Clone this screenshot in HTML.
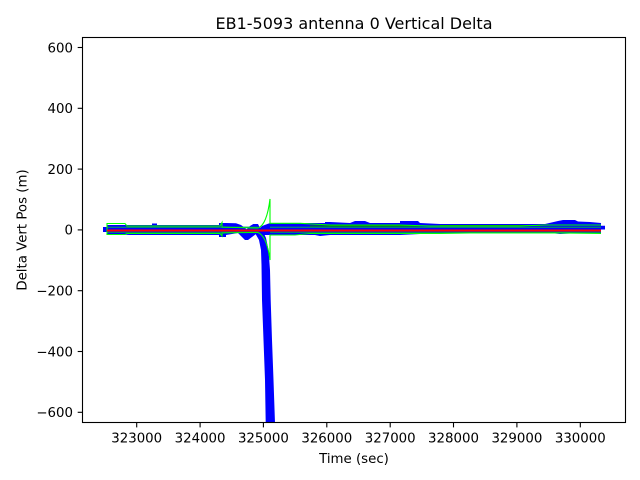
<!DOCTYPE html>
<html>
<head>
<meta charset="utf-8">
<style>
html,body{margin:0;padding:0;background:#fff;}
svg{display:block;}
text{font-family:"DejaVu Sans","Liberation Sans",sans-serif;fill:#000;}
</style>
</head>
<body>
<svg width="640" height="480" viewBox="0 0 640 480" xmlns="http://www.w3.org/2000/svg">
<rect x="0" y="0" width="640" height="480" fill="#fff"/>
<defs>
<clipPath id="ax"><rect x="82.5" y="37.5" width="543" height="385"/></clipPath>
</defs>
<g clip-path="url(#ax)">
<!-- blue band -->
<polygon fill="#0000ff" points="103,227 107,227 107,225 152,225 152,223.5 157,223.5 157,225 219,225 219,223 226,223 236,223.3 241,225 246.7,229.3 250,226 253.3,224 258,224 260,228 262,226 270,223 325,223 325,222 330,222 350,223 355,221 365,221 370,223 400,223 400,221 418,221 420,223 440,224 545,224 558,221 563,220 575,220 578,221.5 590,222 601,223 601,225.7 605,225.7 605,229.5 601,229.5 601,233 570,233.5 560,234 555,233.5 540,233 440,233 420,234 400,235 330,235 320,236 315,235 270,235 262,235 256,234 248,240 245,240 238,233 226,235 226,237 219,237 219,235 130,235 107,234 107,232 103,232"/>
<!-- blue descent -->
<polygon fill="#0000ff" points="255,233 259,240 261,250 261.5,265 262,300 263.5,340 265,380 265.7,423 275,423 273.5,380 272,340 270.7,300 270,270 268.5,250 266,238 262,229"/>
<!-- teal lines -->
<path d="M107,227.3 H258 M270,227.3 H601" stroke="#00807a" stroke-width="1.3" fill="none"/>
<path d="M107,232.4 H258 M270,232.4 H601" stroke="#00807a" stroke-width="1.3" fill="none"/>
<path d="M310,226 H420 M440,225.5 H540" stroke="#008000" stroke-width="1" fill="none"/>
<!-- light green outlines -->
<path d="M107,235 V223.5 H125 L127,226 H220 L222,222.5 V227 C235,227.5 250,228 258,228 C264,226 268,215 270,199 V223.3 H300 L330,225 H400 L430,226 H520 L545,225 H601" stroke="#00ff00" stroke-width="1.1" fill="none"/>
<path d="M107,234.5 H125 L127,233.5 H220 L222,236 V233 C235,232.5 250,232.5 258,232.5 C264,235 268,245 270,260 V235 H295 L310,233.5 H440 L470,233 H560 L601,233.5" stroke="#00ff00" stroke-width="1.1" fill="none"/>
<!-- red -->
<path d="M107,230.5 H601" stroke="#ff0000" stroke-width="2" fill="none"/>
</g>
<!-- axes frame -->
<rect x="82.5" y="37.5" width="543" height="385" fill="none" stroke="#000" stroke-width="1.1"/>
<!-- y ticks -->
<g stroke="#000" stroke-width="1.1">
<line x1="77.7" y1="47.5" x2="82.5" y2="47.5"/>
<line x1="77.7" y1="108.3" x2="82.5" y2="108.3"/>
<line x1="77.7" y1="169.1" x2="82.5" y2="169.1"/>
<line x1="77.7" y1="229.9" x2="82.5" y2="229.9"/>
<line x1="77.7" y1="290.7" x2="82.5" y2="290.7"/>
<line x1="77.7" y1="351.5" x2="82.5" y2="351.5"/>
<line x1="77.7" y1="412.3" x2="82.5" y2="412.3"/>
</g>
<g font-size="13.33" text-anchor="end">
<text x="73" y="52.3">600</text>
<text x="73" y="113.1">400</text>
<text x="73" y="173.9">200</text>
<text x="73" y="234.7">0</text>
<text x="73" y="295.5">−200</text>
<text x="73" y="356.3">−400</text>
<text x="73" y="417.1">−600</text>
</g>
<!-- x ticks -->
<g stroke="#000" stroke-width="1.1">
<line x1="136.7" y1="422.5" x2="136.7" y2="427.4"/>
<line x1="200.1" y1="422.5" x2="200.1" y2="427.4"/>
<line x1="263.4" y1="422.5" x2="263.4" y2="427.4"/>
<line x1="326.8" y1="422.5" x2="326.8" y2="427.4"/>
<line x1="390.2" y1="422.5" x2="390.2" y2="427.4"/>
<line x1="453.5" y1="422.5" x2="453.5" y2="427.4"/>
<line x1="516.9" y1="422.5" x2="516.9" y2="427.4"/>
<line x1="580.3" y1="422.5" x2="580.3" y2="427.4"/>
</g>
<g font-size="13.33" text-anchor="middle">
<text x="136.7" y="442.3">323000</text>
<text x="200.1" y="442.3">324000</text>
<text x="263.4" y="442.3">325000</text>
<text x="326.8" y="442.3">326000</text>
<text x="390.2" y="442.3">327000</text>
<text x="453.5" y="442.3">328000</text>
<text x="516.9" y="442.3">329000</text>
<text x="580.3" y="442.3">330000</text>
</g>
<text x="354" y="463" font-size="13.33" text-anchor="middle">Time (sec)</text>
<text transform="translate(26.5,230) rotate(-90)" font-size="13.33" text-anchor="middle">Delta Vert Pos (m)</text>
<text x="354" y="29" font-size="16" text-anchor="middle">EB1-5093 antenna 0 Vertical Delta</text>
</svg>
</body>
</html>
